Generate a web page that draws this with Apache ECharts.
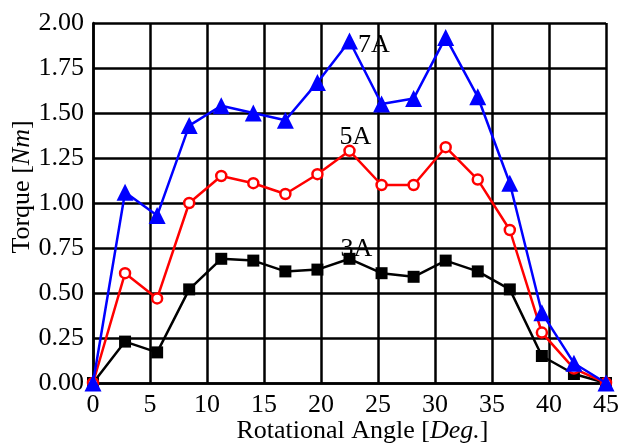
<!DOCTYPE html>
<html lang="en">
<head>
<meta charset="UTF-8" />
<title>Torque</title>
<style>
  * { margin: 0; padding: 0; box-sizing: border-box; }
  html, body { background: #fff; }
  #chart { width: 628px; height: 443px; }
</style>
</head>
<body>
<div id="chart"></div>
<script src="https://cdn.jsdelivr.net/npm/echarts@6/dist/echarts.min.js"></script>
<script>
// rotational angle [deg.]
const angles = [0, 2.8125, 5.625, 8.4375, 11.25, 14.0625, 16.875, 19.6875, 22.5,
  25.3125, 28.125, 30.9375, 33.75, 36.5625, 39.375, 42.1875, 45];
// torque [Nm]
const torque3A = [0, 0.23, 0.17, 0.52, 0.69, 0.68, 0.62, 0.63, 0.69,
  0.61, 0.59, 0.68, 0.62, 0.52, 0.15, 0.05, 0];
const torque5A = [0, 0.61, 0.47, 1.00, 1.15, 1.11, 1.05, 1.16, 1.29,
  1.10, 1.10, 1.31, 1.13, 0.85, 0.28, 0.08, 0];
const torque7A = [0, 1.06, 0.93, 1.43, 1.54, 1.50, 1.46, 1.67, 1.90,
  1.55, 1.58, 1.92, 1.59, 1.11, 0.39, 0.11, 0];
const seriesNames = ['3A', '5A', '7A'];
const yTicks = [0, 0.25, 0.5, 0.75, 1, 1.25, 1.5, 1.75, 2];

const font = 'Liberation Serif';

function pairs(ys) {
  return ys.map((y, i) => [angles[i], y]);
}

// tag one point of each curve with its current
function tagged(ys, labelOpt) {
  const d = pairs(ys);
  d[8] = { value: d[8], label: Object.assign({
    show: true, formatter: '{a}', color: '#000',
    fontFamily: font, fontSize: 26
  }, labelOpt) };
  return d;
}

const chart = echarts.init(document.getElementById('chart'));
chart.setOption({
  animation: false,
  grid: { left: 93, right: 22, top: 23, bottom: 60, outerBoundsMode: 'none', containLabel: false },
  xAxis: {
    type: 'value', min: 0, max: 45, interval: 5,
    name: 'Rotational Angle [{i|Deg.}]',
    nameLocation: 'middle', nameGap: 35, nameMoveOverlap: false,
    nameTextStyle: {
      color: '#000', fontFamily: font, fontSize: 26,
      padding: [0, 0, 0, 26],
      rich: { i: { fontStyle: 'italic', fontFamily: font, fontSize: 26 } }
    },
    axisLine: { show: true, lineStyle: { color: '#000', width: 2.5 } },
    axisTick: { show: false },
    axisLabel: { color: '#000', fontFamily: font, fontSize: 26, margin: 9 },
    splitLine: { show: true, lineStyle: { color: '#000', width: 2.5 } }
  },
  yAxis: {
    type: 'value', min: 0, max: 2, interval: 0.25,
    name: 'Torque [{i|Nm}]',
    nameLocation: 'middle', nameGap: 58, nameMoveOverlap: false,
    nameTextStyle: {
      color: '#000', fontFamily: font, fontSize: 26,
      padding: [0, 0, 0, 32],
      rich: { i: { fontStyle: 'italic', fontFamily: font, fontSize: 26 } }
    },
    axisLine: { show: true, lineStyle: { color: '#000', width: 2.5 } },
    axisTick: { show: false },
    axisLabel: {
      color: '#000', fontFamily: font, fontSize: 26, margin: 9,
      formatter: v => yTicks.includes(v) ? v.toFixed(2) : ''
    },
    splitLine: { show: true, lineStyle: { color: '#000', width: 2.5 } }
  },
  series: [
    {
      name: seriesNames[0], type: 'line', z: 3,
      data: tagged(torque3A, { position: 'top', distance: -9, offset: [7, 0] }),
      symbol: 'rect', symbolSize: 12,
      lineStyle: { color: '#000', width: 2.5 },
      itemStyle: { color: '#000' }
    },
    {
      name: seriesNames[1], type: 'line', z: 4,
      data: tagged(torque5A, { position: 'top', distance: -6, offset: [6, 0] }),
      symbol: 'circle', symbolSize: 10,
      lineStyle: { color: '#ff0000', width: 2.5 },
      itemStyle: { color: '#fff', borderColor: '#ff0000', borderWidth: 2.5 }
    },
    {
      name: seriesNames[2], type: 'line', z: 5,
      data: tagged(torque7A, { position: 'right', distance: 0, offset: [0, 4] }),
      symbol: 'triangle', symbolSize: 17,
      lineStyle: { color: '#0000ff', width: 2.5 },
      itemStyle: { color: '#0000ff' }
    }
  ]
});
</script>
</body>
</html>
